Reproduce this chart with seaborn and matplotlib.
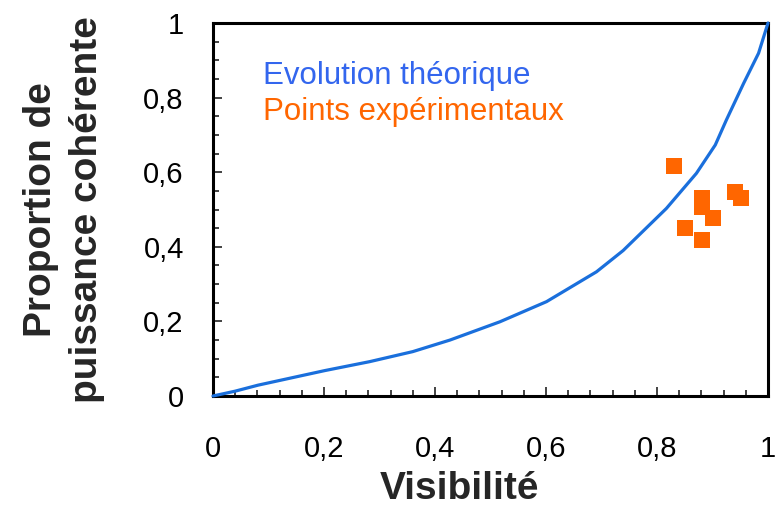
import matplotlib
matplotlib.use("Agg")
import matplotlib.pyplot as plt
import seaborn as sns
import pandas as pd
from matplotlib.ticker import MultipleLocator, FuncFormatter

# Theoretical curve
theory_x = [0, 0.04, 0.081, 0.201, 0.282, 0.36, 0.427, 0.517, 0.601, 0.691, 0.739, 0.817, 0.871, 0.905, 0.925, 0.956, 0.983, 1.0]
theory_y = [0, 0.013, 0.029, 0.068, 0.092, 0.119, 0.150, 0.199, 0.253, 0.333, 0.39, 0.503, 0.597, 0.673, 0.74, 0.838, 0.919, 1.0]

# Experimental points
exp_x = [0.831, 0.881, 0.881, 0.901, 0.851, 0.881, 0.941, 0.951]
exp_y = [0.617, 0.531, 0.507, 0.477, 0.450, 0.418, 0.546, 0.530]

x_ticks = [0, 0.2, 0.4, 0.6, 0.8, 1]
y_ticks = [0, 0.2, 0.4, 0.6, 0.8, 1]

sns.set_style("white")
plt.rcParams['font.family'] = ['Liberation Sans', 'DejaVu Sans']

line_color = "#1A6FDC"
pt_color = "#FF6600"

fig = plt.figure(figsize=(7.75, 5.11), dpi=100)
ax = fig.add_axes([213/775, (511-396)/511, (768-213)/775, (396-23)/511])

df_t = pd.DataFrame({"x": theory_x, "y": theory_y})
df_e = pd.DataFrame({"x": exp_x, "y": exp_y})

sns.lineplot(data=df_t, x="x", y="y", ax=ax, color=line_color, linewidth=2.3,
             sort=False, estimator=None, clip_on=False, zorder=3)
sns.scatterplot(data=df_e, x="x", y="y", ax=ax, color=pt_color, marker="s",
                s=120, linewidth=0, zorder=4)

ax.set_xlim(0, 1)
ax.set_ylim(0, 1)

fmt = FuncFormatter(lambda v, p: ("%g" % round(v, 2)).replace(".", ","))
ax.set_xticks(x_ticks)
ax.set_yticks(y_ticks)
ax.xaxis.set_minor_locator(MultipleLocator(0.04))
ax.yaxis.set_minor_locator(MultipleLocator(0.05))
ax.xaxis.set_major_formatter(fmt)
ax.yaxis.set_major_formatter(fmt)

ax.tick_params(axis='both', which='major', direction='in', length=6.5, width=1.2,
               labelsize=21, color='#222222', labelcolor='black',
               bottom=True, left=True, top=False, right=False)
ax.tick_params(axis='both', which='minor', direction='in', length=4.5, width=1.2,
               color='#222222', bottom=True, left=True, top=False, right=False)
ax.tick_params(axis='x', which='major', pad=28)
ax.tick_params(axis='y', which='major', pad=21)

for sp in ax.spines.values():
    sp.set_visible(True)
    sp.set_linewidth(2.2)
    sp.set_color('black')

ax.set_xlabel("Visibilité", fontsize=28, fontweight='bold')
ax.xaxis.set_label_coords((459-213)/555, -0.2)
ax.set_ylabel("Proportion de\npuissance cohérente", fontsize=28, fontweight='bold',
              linespacing=1.35)
ax.yaxis.set_label_coords(-0.195, 0.5)

ax.text(0.09, 0.8365, "Evolution théorique", transform=ax.transAxes,
        color="#3366EE", fontsize=22.5, va='baseline', ha='left')
ax.text(0.09, 0.740, "Points expérimentaux", transform=ax.transAxes,
        color=pt_color, fontsize=22.5, va='baseline', ha='left')

fig.savefig("out.png", dpi=100)
